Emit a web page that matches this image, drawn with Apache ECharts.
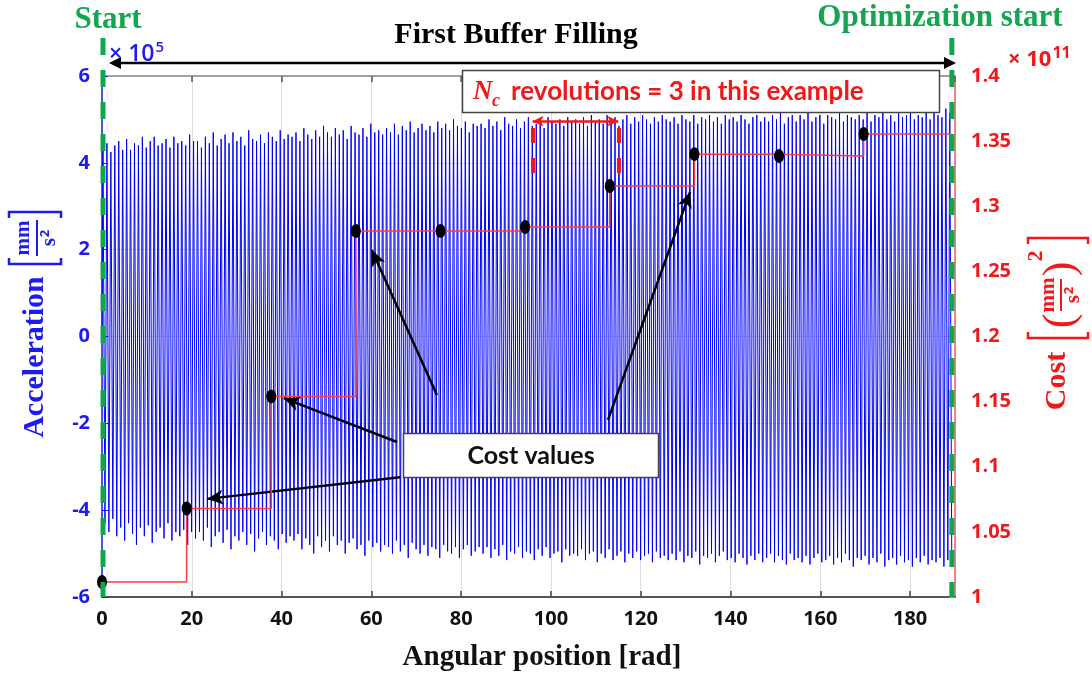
<!DOCTYPE html>
<html><head><meta charset="utf-8">
<script src="https://cdn.jsdelivr.net/npm/echarts@6/dist/echarts.min.js"></script>
<style>html,body{margin:0;padding:0;background:#fff}#c{width:1092px;height:679px}</style>
</head><body><div id="c"></div>
<script>
// ---- data (acceleration in units of 1e5 mm/s^2, cost in units of 1e11) ----
const accPeaks = [
 4.35,4.45,4.25,4.4,4.5,4.3,4.55,4.3,4.45,4.4,4.6,4.35,4.5,4.6,4.4,4.45,4.55,4.35,4.6,4.45,4.5,4.4,4.65,4.5,
 4.5,4.35,4.6,4.45,4.7,4.4,4.55,4.65,4.45,4.7,4.5,4.6,4.4,4.75,4.55,4.5,4.65,4.45,4.7,4.6,4.5,4.75,4.55,4.65,
 4.6,4.7,4.5,4.8,4.65,4.55,4.75,4.6,4.85,4.7,4.6,4.8,4.65,4.75,4.55,4.85,4.7,4.65,4.8,4.6,4.9,4.7,4.75,4.65,
 4.8,4.7,4.9,4.65,4.85,4.75,4.95,4.7,4.8,4.9,4.75,4.85,4.7,4.95,4.8,4.9,4.75,5.0,4.85,4.8,4.95,4.7,4.9,4.85,
 4.9,4.8,5.0,4.85,4.95,4.75,5.05,4.9,4.85,5.0,4.8,4.95,5.05,4.85,4.9,5.0,4.8,5.05,4.95,4.9,5.0,4.85,5.05,4.95,
 5.0,4.9,5.05,4.85,5.1,4.95,5.0,4.9,5.1,4.95,5.05,4.85,5.0,5.1,4.9,5.05,4.95,5.1,5.0,4.9,5.05,4.95,5.1,5.0,
 4.95,5.05,4.9,5.1,5.0,4.95,5.1,4.9,5.05,5.0,5.1,4.95,5.05,4.9,5.1,5.0,5.05,4.95,5.1,5.0,4.9,5.05,5.1,4.95,
 5.05,4.95,5.1,5.0,5.15,4.9,5.05,5.1,4.95,5.1,5.0,5.15,4.95,5.05,5.1,4.9,5.1,5.05,5.0,5.15,4.95,5.1,5.05,5.0,
 5.1,5.0,5.15,4.95,5.1,5.05,5.2,5.0,5.1,4.95,5.15,5.05,5.1,5.2,5.0,5.1,5.05,5.15,5.0,5.2,5.1,5.05,5.25,5.15
];
const accTroughs = [
 -4.3,-4.5,-4.2,-4.6,-4.4,-4.7,-4.3,-4.55,-4.8,-4.4,-4.6,-4.35,-4.75,-4.5,-4.4,-4.65,-4.3,-4.7,-4.5,-4.6,-4.45,-4.8,-4.5,-4.65,
 -4.5,-4.7,-4.4,-4.85,-4.6,-4.5,-4.75,-4.45,-4.9,-4.6,-4.7,-4.5,-4.8,-4.55,-4.95,-4.65,-4.5,-4.8,-4.6,-4.7,-4.9,-4.55,-4.75,-4.6,
 -4.7,-4.55,-4.9,-4.65,-4.8,-5.0,-4.6,-4.85,-4.7,-4.95,-4.6,-4.8,-4.7,-5.0,-4.75,-4.65,-4.9,-4.8,-5.05,-4.7,-4.85,-4.75,-4.95,-4.8,
 -4.85,-5.0,-4.7,-4.95,-4.8,-5.1,-4.75,-4.9,-5.0,-4.8,-5.05,-4.85,-4.9,-5.1,-4.8,-4.95,-5.0,-4.85,-5.1,-4.9,-4.8,-5.05,-4.95,-4.85,
 -5.0,-4.85,-5.1,-4.9,-5.05,-4.8,-5.15,-4.95,-5.0,-4.85,-5.1,-4.95,-5.0,-5.15,-4.9,-5.05,-4.85,-5.1,-5.0,-4.95,-5.2,-4.9,-5.05,-5.0,
 -5.05,-4.9,-5.15,-5.0,-4.95,-5.2,-5.0,-5.1,-4.9,-5.15,-5.05,-4.95,-5.2,-5.0,-5.1,-4.95,-5.15,-5.05,-5.0,-5.2,-4.95,-5.1,-5.05,-5.15,
 -5.0,-5.15,-4.95,-5.2,-5.05,-5.1,-4.95,-5.25,-5.05,-5.1,-5.0,-5.2,-5.05,-4.95,-5.15,-5.1,-5.2,-5.0,-5.1,-5.25,-5.05,-5.15,-5.0,-5.2,
 -5.1,-5.0,-5.2,-5.05,-5.15,-5.25,-5.0,-5.15,-5.1,-5.2,-5.05,-5.25,-5.1,-5.0,-5.2,-5.15,-5.05,-5.25,-5.1,-5.2,-5.0,-5.15,-5.3,-5.1,
 -5.15,-5.05,-5.25,-5.1,-5.2,-5.0,-5.3,-5.15,-5.1,-5.25,-5.05,-5.2,-5.15,-5.3,-5.1,-5.2,-5.05,-5.25,-5.15,-5.2,-5.1,-5.3,-5.15,-5.2
];
const accXEnd = 189.5;            // last angular position of the recorded signal [rad]
const costX = [0, 18.85, 37.7, 56.55, 75.4, 94.25, 113.1, 131.95, 150.8, 169.65, 188.9];
const costY = [1.0115, 1.068, 1.154, 1.281, 1.281, 1.284, 1.3155, 1.340, 1.3385, 1.3555, 1.3455];
const startX = 0, optStartX = 189.3;
const ncFrom = 95.9, ncTo = 115.0;
// annotation arrows in data coords [x, acc]: [from, to]
const costArrows = [
  [[66.4, -3.24], [23.4, -3.74]],
  [[65.7, -2.43], [40.5, -1.42]],
  [[74.6, -1.35], [60.1, 1.99]],
  [[112.7, -1.92], [131.0, 3.33]]
];

const BLUE = '#1c1cf0', RED = '#f01818', GREEN = '#12a650';
const SERIF = '"Liberation Serif","Times New Roman",serif';
const SANS = '"Open Sans",sans-serif';

const period = accXEnd / accPeaks.length;
const accData = [[0, 0]];
for (let i = 0; i < accPeaks.length; i++) {
  accData.push([(i + 0.25) * period, accPeaks[i]]);
  accData.push([(i + 0.75) * period, accTroughs[i]]);
}
const costData = costX.map((x, i) => i === costX.length - 1
  ? {value: [x, costY[i]], symbol: 'none'} : [x, costY[i]]);

const arrowMarks = costArrows.map(a => [
  {coord: a[0], symbol: 'none', lineStyle: {color: '#000', width: 2.5, type: 'solid'}},
  {coord: a[1], symbol: 'arrow', symbolSize: [11, 16]}
]);
arrowMarks.push([
  {coord: [ncFrom, 4.96], symbol: 'arrow', symbolSize: [8, 11], lineStyle: {color: RED, width: 2.5, type: 'solid'}},
  {coord: [ncTo, 4.96], symbol: 'arrow', symbolSize: [8, 11]}
]);
[ncFrom, ncTo].forEach(x => arrowMarks.push([
  {coord: [x, 4.8], symbol: 'none', lineStyle: {color: RED, width: 4, type: [15, 15]}},
  {coord: [x, 3.65], symbol: 'none'}
]));

const axLabel = (c) => ({color: c, fontFamily: SANS, fontWeight: 'bold', fontSize: 20});

const option = {
  animation: false,
  backgroundColor: '#fff',
  grid: {left: 102, right: 137, top: 76, bottom: 82, containLabel: false},
  xAxis: [{
    type: 'value', min: 0, max: 190, interval: 20, position: 'bottom',
    axisLine: {onZero: false, lineStyle: {color: '#555', width: 2}},
    axisTick: {inside: true, length: 6, lineStyle: {color: '#444', width: 1.5}},
    axisLabel: Object.assign(axLabel('#111'), {margin: 12, showMaxLabel: false}),
    splitLine: {show: true, lineStyle: {color: '#dedede', width: 1}}
  }, {
    type: 'value', min: 0, max: 190, interval: 20, position: 'top',
    axisLine: {onZero: false, lineStyle: {color: '#888', width: 1.5}},
    axisTick: {inside: true, length: 6, lineStyle: {color: '#555', width: 1.5}},
    axisLabel: {show: false}, splitLine: {show: false}
  }],
  yAxis: [{
    type: 'value', min: -6, max: 6, interval: 2, position: 'left',
    axisLine: {show: true, onZero: false, lineStyle: {color: BLUE, width: 1.5}},
    axisTick: {show: true, inside: true, length: 6, lineStyle: {color: BLUE}},
    axisLabel: Object.assign(axLabel(BLUE), {margin: 12}),
    splitLine: {show: true, lineStyle: {color: '#e4e4e4'}}
  }, {
    type: 'value', min: 1, max: 1.4, interval: 0.05, position: 'right',
    axisLine: {show: true, onZero: false, lineStyle: {color: '#f06060', width: 1.5}},
    axisTick: {show: true, inside: true, length: 6, lineStyle: {color: '#f06060'}},
    axisLabel: Object.assign(axLabel(RED), {margin: 16, formatter: v => String(+v.toFixed(2))}),
    splitLine: {show: false}
  }],
  series: [{
    name: 'Acceleration', type: 'line', xAxisIndex: 0, yAxisIndex: 0,
    data: accData, showSymbol: false, symbol: 'none', sampling: null,
    lineStyle: {color: '#0000ff', width: 1, join: 'round'}, z: 2, silent: true,
    markLine: {silent: true, animation: false, label: {show: false}, symbol: ['none', 'arrow'],
      emphasis: {disabled: true}, data: arrowMarks}
  }, {
    name: 'Cost', type: 'line', xAxisIndex: 0, yAxisIndex: 1, step: 'end',
    data: costData, symbol: 'circle', symbolSize: [10, 14], showAllSymbol: true,
    itemStyle: {color: '#000'}, lineStyle: {color: '#ff3b3b', width: 1.5}, z: 5, silent: true
  }]
};

const chart = echarts.init(document.getElementById('c'));
chart.setOption(option);

const px = v => chart.convertToPixel({xAxisIndex: 0}, v);
const yBottom = chart.convertToPixel({yAxisIndex: 0}, -6);
const gx0 = px(startX), gx1 = px(optStartX);

function txt(x, y, text, font, fill, align, extra) {
  return Object.assign({type: 'text', x, y, z: 100,
    style: {text, font, fill, align: align || 'center', verticalAlign: 'middle'}}, extra || {});
}
function bracket(x, h, open, color, w) {
  const d = open ? 6 : -6;
  return {type: 'polyline', z: 100, shape: {points: [[x + d, -h], [x, -h], [x, h], [x + d, h]]},
    style: {stroke: color, lineWidth: w || 2.5, fill: null}};
}

const graphics = [
  // green dashed boundaries
  {type: 'line', z: 90, shape: {x1: gx0 + 1, y1: 38, x2: gx0 + 1, y2: yBottom},
   style: {stroke: GREEN, lineWidth: 5, lineDash: [17, 15]}},
  {type: 'line', z: 90, shape: {x1: gx1, y1: 38, x2: gx1, y2: yBottom},
   style: {stroke: GREEN, lineWidth: 5, lineDash: [17, 15]}},
  txt(108, 20, 'Start', 'bold 31px ' + SERIF, GREEN),
  txt(940, 18, 'Optimization start', 'bold 31px ' + SERIF, GREEN),
  txt(516, 35, 'First Buffer Filling', 'bold 30px ' + SERIF, '#000'),
  // black double arrow
  {type: 'line', z: 95, shape: {x1: 116, y1: 63, x2: 949, y2: 63}, style: {stroke: '#000', lineWidth: 2.5}},
  {type: 'polygon', z: 95, shape: {points: [[109, 63], [121, 57], [121, 69]]}, style: {fill: '#000'}},
  {type: 'polygon', z: 95, shape: {points: [[956, 63], [944, 57], [944, 69]]}, style: {fill: '#000'}},
  // multipliers
  {type: 'text', x: 109, y: 54, z: 100, style: {text: '× 10{s|5}', font: '600 23px ' + SANS, fill: BLUE,
    align: 'left', verticalAlign: 'middle', rich: {s: {font: '600 15px ' + SANS, fill: BLUE, padding: [0, 0, 13, 1]}}}},
  {type: 'text', x: 1008, y: 60, z: 100, style: {text: '× 10{s|11}', font: 'bold 22px ' + SANS, fill: RED,
    align: 'left', verticalAlign: 'middle', rich: {s: {font: 'bold 16px ' + SANS, fill: RED, padding: [0, 0, 13, 1]}}}},
  // Nc box
  {type: 'rect', z: 100, shape: {x: 462.5, y: 70.5, width: 477, height: 42}, style: {fill: '#fff', stroke: '#444', lineWidth: 1.5}},
  txt(473, 92, 'N', 'italic bold 27px ' + SERIF, RED, 'left', {z: 101}),
  txt(492, 101, 'c', 'italic bold 18px ' + SERIF, RED, 'left', {z: 101}),
  txt(511, 92, 'revolutions = 3 in this example', 'bold 26px Lato, sans-serif', RED, 'left', {z: 101}),
  // Cost values box
  {type: 'rect', z: 100, shape: {x: 403.5, y: 433.5, width: 255, height: 44}, style: {fill: '#fff', stroke: '#444', lineWidth: 1.5}},
  txt(531, 456, 'Cost values', 'bold 25px Lato, sans-serif', '#111', 'center', {z: 101}),
  // x axis title
  txt(542, 658, 'Angular position [rad]', 'bold 29px ' + SERIF, '#111'),
  // left y axis title (rotated)
  {type: 'group', x: 35, y: 326, rotation: Math.PI / 2, z: 100, children: [
    txt(-31, 0, 'Acceleration', 'bold 30px ' + SERIF, BLUE),
    bracket(62, 26, true, BLUE),
    bracket(114, 26, false, BLUE),
    txt(88, -11, 'mm', 'bold 21px ' + SERIF, BLUE),
    {type: 'line', z: 100, shape: {x1: 70, y1: 2, x2: 106, y2: 2}, style: {stroke: BLUE, lineWidth: 2}},
    {type: 'text', x: 88, y: 15, z: 100, style: {text: 's{s|2}', font: 'bold 21px ' + SERIF, fill: BLUE,
      align: 'center', verticalAlign: 'middle', rich: {s: {font: 'bold 13px ' + SANS, fill: BLUE, padding: [0, 0, 10, 1]}}}}
  ]},
  // right y axis title (rotated)
  {type: 'group', x: 1058, y: 324, rotation: Math.PI / 2, z: 100, children: [
    txt(-57, -1, 'Cost', 'bold 30px ' + SERIF, RED),
    bracket(-14, 30, true, RED),
    bracket(86, 30, false, RED),
    txt(3, 3, '(', '44px ' + SERIF, RED),
    txt(55, 3, ')', '44px ' + SERIF, RED),
    txt(29, -9, 'mm', 'bold 21px ' + SERIF, RED),
    {type: 'line', z: 100, shape: {x1: 13, y1: 3, x2: 45, y2: 3}, style: {stroke: RED, lineWidth: 2}},
    {type: 'text', x: 29, y: 16, z: 100, style: {text: 's{s|2}', font: 'bold 21px ' + SERIF, fill: RED,
      align: 'center', verticalAlign: 'middle', rich: {s: {font: 'bold 13px ' + SANS, fill: RED, padding: [0, 0, 10, 1]}}}},
    txt(68, -22, '2', 'bold 22px ' + SERIF, RED)
  ]}
];
chart.setOption({graphic: graphics});
</script>
</body></html>
